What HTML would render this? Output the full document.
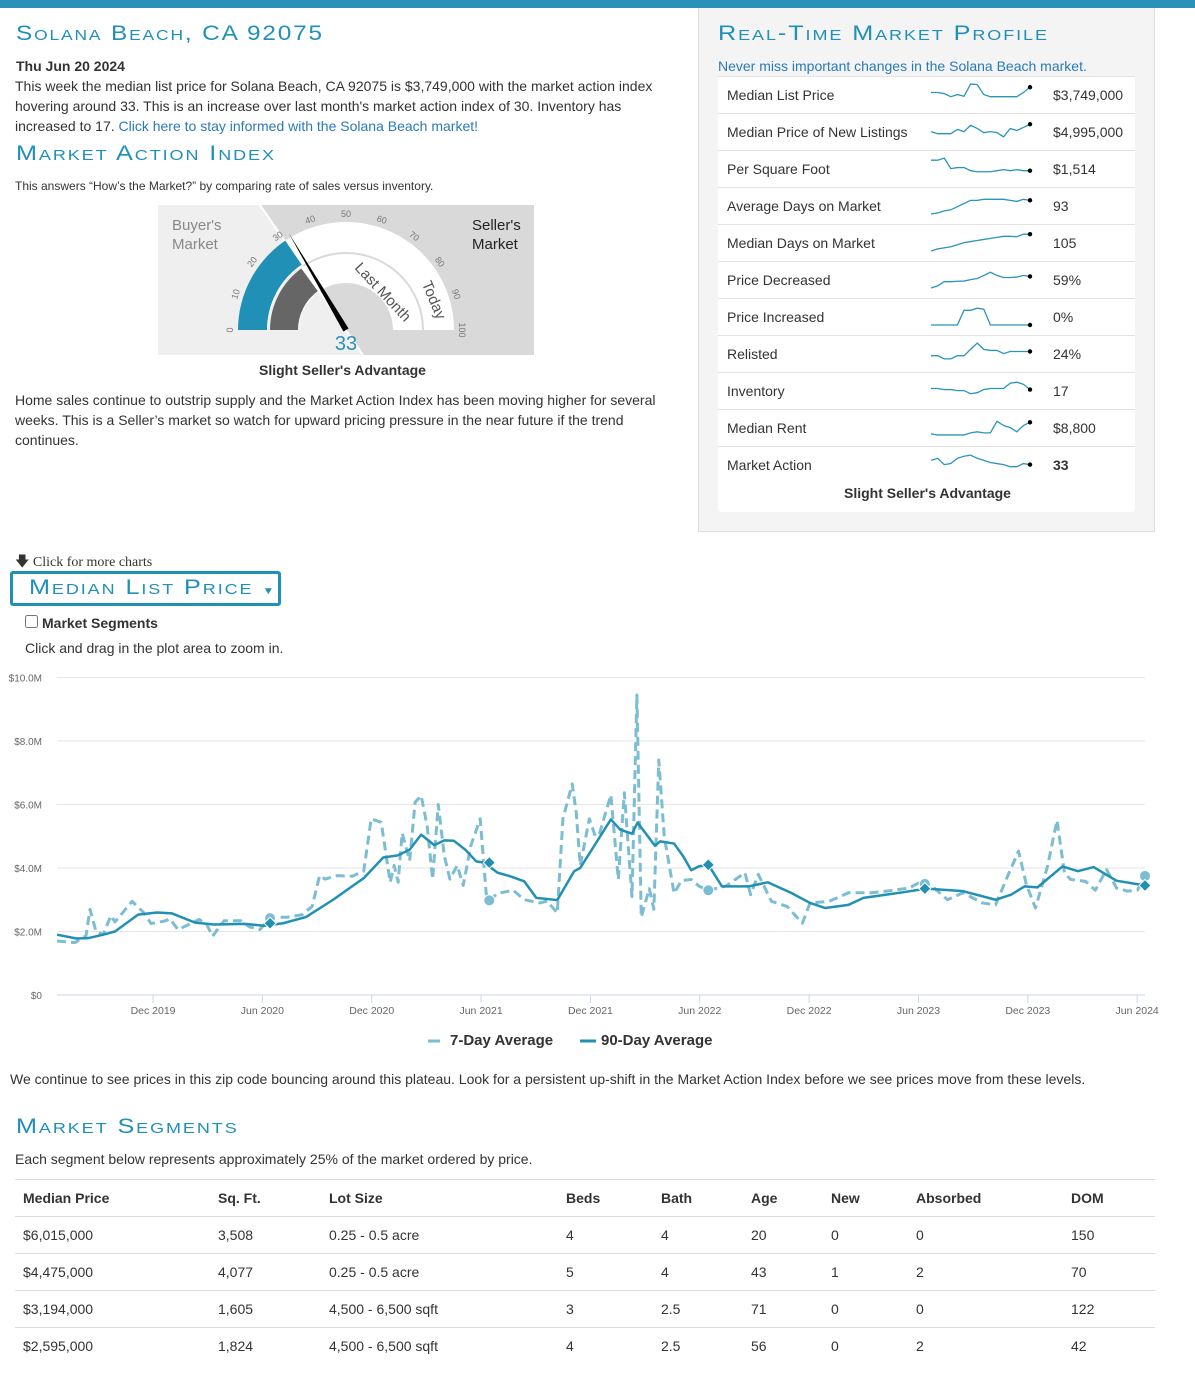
<!DOCTYPE html>
<html><head><meta charset="utf-8">
<style>
*{box-sizing:border-box;margin:0;padding:0}
body{width:1195px;height:1386px;position:relative;background:#fff;font-family:"Liberation Sans",Arial,sans-serif;color:#333;font-size:14px;overflow:hidden}
.a{position:absolute;white-space:nowrap}
.h{font-variant:small-caps;color:#2090b8;font-size:21px;letter-spacing:1.6px;font-weight:normal;transform:scaleX(1.2);transform-origin:left}
a{color:#2a7ab8;text-decoration:none}
.p{line-height:20px;white-space:normal}
.row{position:absolute;left:718px;width:417px;height:37px;border-top:1px solid #e3e3e3;background:#fff}
.row span{position:absolute;top:10px}
table{border-collapse:collapse}
.seg td,.seg th{height:37px;border-top:1px solid #ddd;text-align:left;padding-left:8px;font-size:14px}
</style></head><body>
<div class="a" style="left:0;top:0;width:1195px;height:8px;background:#2a91b8"></div>

<div class="a h" style="left:16px;top:22px;transform:scaleX(1.16)">Solana Beach, CA 92075</div>
<div class="a" style="left:16px;top:58px;font-weight:bold">Thu Jun 20 2024</div>
<div class="a p" style="left:15px;top:76px;width:660px">This week the median list price for Solana Beach, CA 92075 is $3,749,000 with the market action index hovering around 33. This is an increase over last month's market action index of 30. Inventory has increased to 17. <a href="#">Click here to stay informed with the Solana Beach market!</a></div>
<div class="a h" style="left:16px;top:142px">Market Action Index</div>
<div class="a" style="left:15px;top:179px;font-size:12px">This answers “How’s the Market?” by comparing rate of sales versus inventory.</div>

<svg class="a" style="left:158px;top:205px" width="376" height="150" viewBox="158 205 376 150">
<rect x="158" y="205" width="376" height="150" fill="#efefef"/>
<polygon points="260,205 534,205 534,355 363,355" fill="#d9d9d9"/>
<line x1="260" y1="205" x2="363" y2="355" stroke="#fff" stroke-width="2"/>
<g id="gauge"></g>
<text x="172" y="230" font-size="15" fill="#888">Buyer's</text>
<text x="172" y="249" font-size="15" fill="#888">Market</text>
<text x="472" y="230" font-size="15" fill="#222">Seller's</text>
<text x="472" y="249" font-size="15" fill="#222">Market</text>
<text x="346" y="350" font-size="20" fill="#2a91b8" text-anchor="middle">33</text>
</svg>
<div class="a" style="left:259px;top:362px;font-weight:bold">Slight Seller's Advantage</div>
<div class="a p" style="left:15px;top:390px;width:660px">Home sales continue to outstrip supply and the Market Action Index has been moving higher for several weeks. This is a Seller’s market so watch for upward pricing pressure in the near future if the trend continues.</div>

<div class="a" style="left:698px;top:8px;width:457px;height:524px;background:#f4f4f4;border:1px solid #ddd;border-top:none"></div>
<div class="a h" style="left:718px;top:22px">Real-Time Market Profile</div>
<div class="a" style="left:718px;top:58px;color:#2a7ab8">Never miss important changes in the Solana Beach market.</div>
<div id="rows"></div>
<div class="a" style="left:718px;top:476px;width:417px;height:36px;background:#fff;border-radius:0 0 4px 4px"></div>
<div class="a" style="left:844px;top:485px;font-weight:bold">Slight Seller's Advantage</div>
<svg class="a" id="sparks" style="left:0;top:0;pointer-events:none" width="1195" height="532"></svg>

<div class="a" style="left:15px;top:551px;font-family:'Liberation Serif',serif;font-size:14px">🡇 Click for more charts</div>
<div class="a" style="left:10px;top:571px;width:271px;height:35px;border:3px solid #2090b8;border-radius:3px"></div>
<div class="a h" style="left:29px;top:576px">Median List Price <span style="font-size:10px">▼</span></div>
<input type="checkbox" class="a" style="left:25px;top:615px;width:13px;height:13px">
<div class="a" style="left:42px;top:615px;font-weight:bold">Market Segments</div>
<div class="a" style="left:25px;top:640px">Click and drag in the plot area to zoom in.</div>

<svg class="a" id="chart" style="left:0;top:670px" width="1195" height="390" viewBox="0 670 1195 390"></svg>

<div class="a" style="left:10px;top:1071px">We continue to see prices in this zip code bouncing around this plateau. Look for a persistent up-shift in the Market Action Index before we see prices move from these levels.</div>
<div class="a h" style="left:16px;top:1115px">Market Segments</div>
<div class="a" style="left:15px;top:1151px">Each segment below represents approximately 25% of the market ordered by price.</div>
<table class="a seg" style="left:15px;top:1179px;width:1140px">
<colgroup><col style="width:195px"><col style="width:111px"><col style="width:237px"><col style="width:95px"><col style="width:90px"><col style="width:80px"><col style="width:85px"><col style="width:155px"><col></colgroup>
<tr><th>Median Price</th><th>Sq. Ft.</th><th>Lot Size</th><th>Beds</th><th>Bath</th><th>Age</th><th>New</th><th>Absorbed</th><th>DOM</th></tr>
<tr><td>$6,015,000</td><td>3,508</td><td>0.25 - 0.5 acre</td><td>4</td><td>4</td><td>20</td><td>0</td><td>0</td><td>150</td></tr>
<tr><td>$4,475,000</td><td>4,077</td><td>0.25 - 0.5 acre</td><td>5</td><td>4</td><td>43</td><td>1</td><td>2</td><td>70</td></tr>
<tr><td>$3,194,000</td><td>1,605</td><td>4,500 - 6,500 sqft</td><td>3</td><td>2.5</td><td>71</td><td>0</td><td>0</td><td>122</td></tr>
<tr><td>$2,595,000</td><td>1,824</td><td>4,500 - 6,500 sqft</td><td>4</td><td>2.5</td><td>56</td><td>0</td><td>2</td><td>42</td></tr>
</table>

<script>
const NS='http://www.w3.org/2000/svg';
function mk(tag,attrs,parent){const e=document.createElementNS(NS,tag);for(const k in attrs)e.setAttribute(k,attrs[k]);parent.appendChild(e);return e;}

/* ---------- gauge ---------- */
const gaugeToday=33;
const gaugeLastMonth=30;
const gaugeTicks=[0,10,20,30,40,50,60,70,80,90,100];
(function(){
const g=document.getElementById('gauge');const cx=346,cy=330;
function pt(v,r){const a=Math.PI*(1-v/100);return [cx+r*Math.cos(a),cy-r*Math.sin(a)];}
function band(v0,v1,r0,r1,fill){const p0=pt(v0,r1),p1=pt(v1,r1),p2=pt(v1,r0),p3=pt(v0,r0);
return mk('path',{d:`M${p0} A${r1},${r1} 0 0 1 ${p1} L${p2} A${r0},${r0} 0 0 0 ${p3} Z`,fill:fill},g);}
band(0,100,78,108,'#fff');band(0,100,47,76,'#fff');
const t=band(0,gaugeToday-2,79,108,'#2190b7');

const l=band(0,gaugeLastMonth,48,76,'#666');

gaugeTicks.forEach(v=>{const p=pt(v,116);const tx=mk('text',{x:p[0],y:p[1]+3,'font-size':9,fill:'#777','text-anchor':'middle',transform:`rotate(${v/100*180-90} ${p[0]} ${p[1]})`},g);tx.textContent=v;
});
const lm=mk('text',{x:0,y:5,'font-size':15,fill:'#555','text-anchor':'middle',transform:`translate(383,292) rotate(47)`},g);lm.textContent='Last Month';

const td=mk('text',{x:0,y:5,'font-size':15,fill:'#555','text-anchor':'middle',transform:`translate(434,300) rotate(67)`},g);td.textContent='Today';

const a=Math.PI*(1-gaugeToday/100);const tip=pt(gaugeToday,113);
const nx=Math.sin(a)*3,ny=Math.cos(a)*3;
const nd=mk('polygon',{points:`${tip} ${cx-nx},${cy-ny} ${cx+nx},${cy+ny}`,fill:'#000'},g);

})();

/* ---------- profile rows + sparklines ---------- */
const profileLabels=['Median List Price','Median Price of New Listings','Per Square Foot','Average Days on Market','Median Days on Market','Price Decreased','Price Increased','Relisted','Inventory','Median Rent','Market Action'];
const profileValues=['$3,749,000','$4,995,000','$1,514','93','105','59%','0%','24%','17','$8,800','33'];
const sparkMLP=[5,5,4.5,3,4,3.2,9,8.8,4,3,3,3,3,3,5,7.5];
const sparkNew=[4,3,3,3,5,4,7,5.5,3.5,4,3.5,1.5,5.5,4.5,6,7.5];
const sparkPSF=[8,8,9,4,4.5,4.5,3,2.5,2.5,2.5,3,3.5,3,3.5,3,3];
const sparkADOM=[0,0.5,1.5,2,3.5,5,6.5,6.5,7,7,7,7,6.5,6,7,6.5];
const sparkMDOM=[0,1,1.5,2,3,4,4.5,5,5.5,6,6.5,7,7,6.8,8,8];
const sparkPD=[0,1,3,3,3.2,3.3,4,4.5,6,7.5,6,5,5,5.2,6,5.5];
const sparkPI=[0,0,0,0,0,7,7,8,7.5,0,0,0,0,0,0,0];
const sparkRel=[3,3,1.5,1.5,3,3,6,9,6,5.5,5.5,4,5,5,5,5];
const sparkInv=[5,5,4.5,4.5,4,4,2.5,3,4.5,5,5,5,7.5,8,7,4.5];
const sparkRent=[1,0.5,0.5,0.5,0.5,0.5,1.5,2,1.5,1.5,7,5,4,2,5,6.5];
const sparkMA=[6,7,4,4.5,7,8,8.5,7,6,5,4.5,4,3,3,4.5,4];
const sparkSeries=[sparkMLP,sparkNew,sparkPSF,sparkADOM,sparkMDOM,sparkPD,sparkPI,sparkRel,sparkInv,sparkRent,sparkMA];
(function(){
const rows=document.getElementById('rows');const sv=document.getElementById('sparks');
profileLabels.forEach((lab,i)=>{
 const top=76+i*37;
 const r=document.createElement('div');r.className='row';r.style.top=top+'px';
 
 
 r.innerHTML=`<span style="left:9px">${lab}</span><span style="left:335px${i==10?';font-weight:bold':''}">${profileValues[i]}</span>`;
 rows.appendChild(r);
 const s=sparkSeries[i];const n=s.length;
 const pts=s.map((v,j)=>[931+j*99/(n-1),top+27-v*2.1]);
 const pl=mk('polyline',{points:pts.map(p=>p.join(',')).join(' '),fill:'none',stroke:'#2a95bb','stroke-width':1.3},sv);
 
 
 const last=pts[n-1];mk('circle',{cx:last[0],cy:last[1],r:2.2,fill:'#000'},sv);
});
})();

/* ---------- main chart ---------- */
// time in months since 2019-06-22
const xTickLabels=['Dec 2019','Jun 2020','Dec 2020','Jun 2021','Dec 2021','Jun 2022','Dec 2022','Jun 2023','Dec 2023','Jun 2024'];
const xTickMonths=[5.27,11.27,17.27,23.27,29.27,35.27,41.27,47.27,53.27,59.27];
const yTickValues=[0,2,4,6,8,10];
const yTickLabels=['$0','$2.0M','$4.0M','$6.0M','$8.0M','$10.0M'];
const avg90Months=[0,1.07,1.7,2.53,3.18,4.45,5.49,6.31,7.58,8.62,10.32,11.36,12.41,13.67,15.15,16.85,17.9,18.72,19.35,19.98,20.7,21.25,21.77,22.4,23.0,23.44,24.18,24.81,25.64,26.3,27.45,28.38,28.71,30.39,30.9,31.55,31.86,32.81,33.1,33.86,34.36,34.8,35.22,35.74,36.49,37.94,39.0,40.27,41.32,42.16,43.43,44.25,45.51,46.36,47.71,49.72,51.5,52.35,53.09,53.8,55.17,56.02,56.88,58.13,59.7];
const avg90Values=[1.9,1.78,1.79,1.9,2.0,2.53,2.6,2.57,2.28,2.22,2.24,2.18,2.26,2.46,3.0,3.69,4.33,4.4,4.58,5.05,4.72,4.87,4.86,4.58,4.21,4.17,3.85,3.75,3.58,3.06,2.99,3.9,4.0,5.53,5.21,5.08,5.43,4.7,4.84,4.77,4.37,3.93,4.05,4.1,3.42,3.42,3.55,3.22,2.9,2.74,2.84,3.06,3.16,3.23,3.35,3.27,3.0,3.16,3.42,3.39,4.05,3.9,4.03,3.6,3.45];
const avg7Months=[0,0.99,1.59,1.81,2.14,2.53,2.96,3.18,4.12,4.75,5.16,5.91,6.2,6.64,7.16,7.8,8.22,8.53,9.17,10.1,10.54,11.14,11.69,12.63,13.45,14.0,14.41,14.71,15.37,16.2,16.83,17.24,17.79,18.09,18.28,18.5,18.72,18.94,19.35,19.65,19.98,20.31,20.61,20.92,21.25,21.56,21.96,22.29,22.71,23.22,23.55,23.72,24.18,25.03,25.64,26.5,26.9,27.45,27.76,28.27,28.49,28.71,29.21,29.54,29.76,30.39,30.8,31.13,31.55,31.82,32.06,32.5,32.75,33.02,33.32,33.86,34.26,34.8,35.22,35.74,36.7,37.75,38.06,38.48,39.2,40.06,40.9,41.32,42.37,43.43,44.69,45.51,46.77,47.62,48.86,49.72,50.77,51.5,52.24,52.76,53.19,53.69,54.35,54.87,55.28,55.61,56.44,56.97,57.59,58.14,58.74,59.29,59.7];
const avg7Values=[1.7,1.65,1.86,2.7,2.0,1.9,2.5,2.3,2.95,2.6,2.25,2.33,2.4,2.06,2.2,2.38,2.22,1.85,2.34,2.34,2.15,2.06,2.45,2.45,2.53,2.79,3.76,3.65,3.76,3.74,3.9,5.55,5.44,4.28,3.55,4.08,3.55,5.1,4.23,6.07,6.28,5.33,3.65,6.0,4.39,3.65,4.08,3.45,4.71,5.55,3.2,2.98,3.2,3.3,3.0,2.9,2.96,2.58,5.55,6.65,5.75,4.08,5.55,5.0,5.07,6.3,3.64,6.37,3.1,9.45,2.45,3.35,2.7,7.4,5.0,3.2,3.6,3.64,3.43,3.3,3.43,3.85,3.16,3.8,2.95,2.79,2.26,2.9,2.95,3.22,3.22,3.27,3.37,3.64,3.0,3.22,2.9,2.84,3.85,4.53,3.48,2.74,4.05,5.5,3.85,3.64,3.58,3.3,3.95,3.37,3.27,3.3,3.75];
const markerMonths=[11.69,23.72,35.74,47.62,59.7];
const avg90MarkerValues=[2.26,4.17,4.1,3.35,3.45];
const avg7MarkerValues=[2.42,2.98,3.3,3.5,3.75];

(function(){
const svg=document.getElementById('chart');
const X0=57,X1=1145,MAXT=59.7,Y0=995,PXM=31.75;
const xs=t=>X0+t*(X1-X0)/MAXT;const ys=v=>Y0-v*PXM;
yTickValues.forEach((v,i)=>{
 if(v>0){const gl=mk('line',{x1:X0,x2:X1,y1:ys(v),y2:ys(v),stroke:'#e6e6e6','stroke-width':1},svg);
 }
 const t=mk('text',{x:42,y:ys(v)+4,'font-size':10,fill:'#666','text-anchor':'end'},svg);t.textContent=yTickLabels[i];
 
});
mk('line',{x1:X0,x2:X1,y1:Y0,y2:Y0,stroke:'#ccd6eb','stroke-width':1},svg);
xTickMonths.forEach((m,i)=>{
 mk('line',{x1:xs(m),x2:xs(m),y1:Y0,y2:Y0+8,stroke:'#ccd6eb'},svg);
 const t=mk('text',{x:xs(m),y:1014,'font-size':10.5,fill:'#666','text-anchor':'middle'},svg);t.textContent=xTickLabels[i];
 
});
const l7=mk('polyline',{points:avg7Months.map((m,i)=>xs(m)+','+ys(avg7Values[i])).join(' '),fill:'none',stroke:'#7cbdd3','stroke-width':3,'stroke-dasharray':'9,5','stroke-linejoin':'round'},svg);


const l90=mk('polyline',{points:avg90Months.map((m,i)=>xs(m)+','+ys(avg90Values[i])).join(' '),fill:'none',stroke:'#2190b3','stroke-width':2.5,'stroke-linejoin':'round'},svg);


markerMonths.forEach((m,i)=>{
 const c=mk('circle',{cx:xs(m),cy:ys(avg7MarkerValues[i]),r:5.5,fill:'#7cbdd3',stroke:'#fff','stroke-width':1},svg);
 
 const x=xs(m),y=ys(avg90MarkerValues[i]);
 const d=mk('polygon',{points:`${x},${y-6} ${x+6},${y} ${x},${y+6} ${x-6},${y}`,fill:'#2190b3',stroke:'#fff','stroke-width':1},svg);
 
});
mk('line',{x1:428,x2:440,y1:1041,y2:1041,stroke:'#7cbdd3','stroke-width':3},svg);
let t=mk('text',{x:450,y:1045,'font-size':15,'font-weight':'bold',fill:'#333'},svg);t.textContent='7-Day Average';

mk('line',{x1:580,x2:596,y1:1041,y2:1041,stroke:'#2190b3','stroke-width':3},svg);
t=mk('text',{x:601,y:1045,'font-size':15,'font-weight':'bold',fill:'#333'},svg);t.textContent='90-Day Average';

})();
</script>
</body></html>
